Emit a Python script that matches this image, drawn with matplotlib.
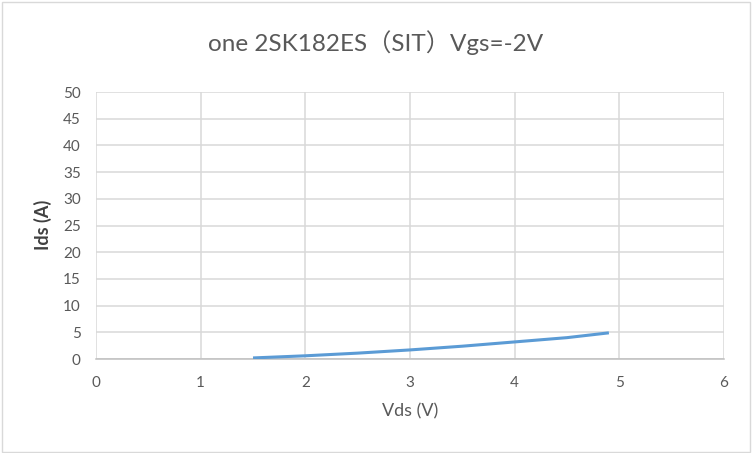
import matplotlib
matplotlib.use("Agg")
import matplotlib.pyplot as plt
from matplotlib.patches import Rectangle

vds = [1.5, 2.0, 2.5, 3.0, 3.5, 4.0, 4.5, 4.9]
ids = [0.2, 0.6, 1.1, 1.7, 2.4, 3.2, 4.0, 4.9]
x_ticks = [0, 1, 2, 3, 4, 5, 6]
y_ticks = [0, 5, 10, 15, 20, 25, 30, 35, 40, 45, 50]

plt.rcParams['font.family'] = ['Lato', 'DejaVu Sans']

fig = plt.figure(figsize=(7.52, 4.53), dpi=100)
fig.patches.append(Rectangle((0.002, 0.003), 0.995, 0.993, transform=fig.transFigure,
                             fill=False, edgecolor='#d9d9d9', linewidth=1.0))
ax = fig.add_axes([0.1277, 0.2075, 0.8351, 0.5894])

ax.plot(vds, ids, color='#5b9bd5', linewidth=2.2, solid_capstyle='butt', zorder=3)

ax.set_xlim(0, 6)
ax.set_ylim(0, 50)
ax.set_xticks(x_ticks)
ax.set_yticks(y_ticks)
ax.grid(True, color='#d9d9d9', linewidth=1.1)
ax.set_axisbelow(True)
for s in ['top', 'right', 'left']:
    ax.spines[s].set_visible(False)
ax.spines['bottom'].set_color('#bfbfbf')
ax.spines['bottom'].set_linewidth(1.1)
ax.tick_params(length=0, labelsize=11, colors='#595959')
ax.tick_params(axis='x', pad=12)
ax.tick_params(axis='y', pad=11)

ax.set_xlabel('Vds (V)', fontsize=13, color='#595959', va='center')
ax.xaxis.set_label_coords(0.5, -0.198)
ax.set_ylabel('Ids (A)', fontsize=13, color='#404040', fontweight='bold', va='center')
ax.yaxis.set_label_coords(-0.084, 0.502)
fig.text(0.5, 0.905, 'one 2SK182ES（SIT）Vgs=-2V', ha='center', va='center',
         fontsize=17.5, color='#595959',
         family=['Lato', 'Noto Sans CJK SC', 'DejaVu Sans'])

fig.savefig('out.png', dpi=100)
